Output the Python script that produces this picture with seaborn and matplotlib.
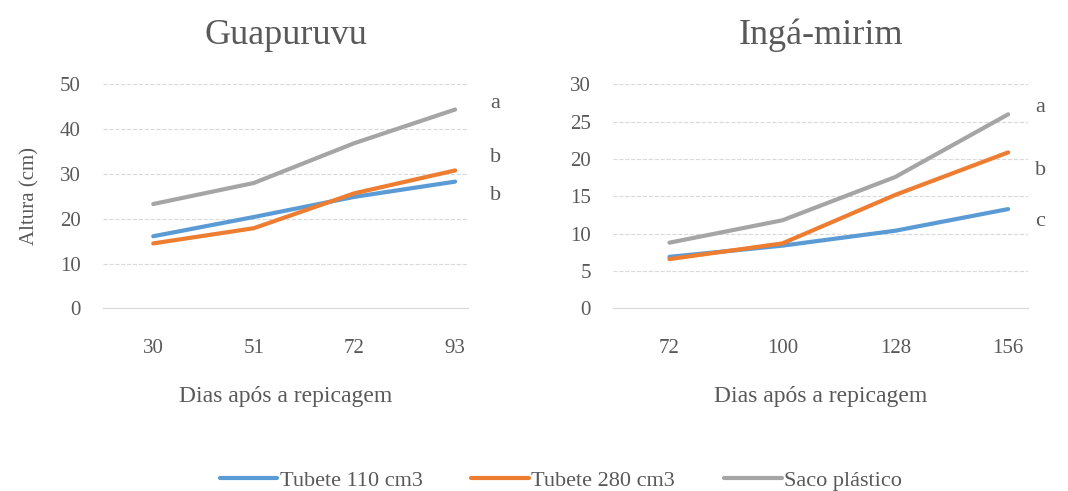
import pandas as pd
import matplotlib.pyplot as plt
import seaborn as sns

# data
series_names = ['Tubete 110 cm3', 'Tubete 280 cm3', 'Saco plástico']
colors = ['#5B9BD5', '#ED7D31', '#A5A5A5']

guap_days = ['30', '51', '72', '93']
guap_tub110 = [16.1, 20.4, 24.9, 28.3]
guap_tub280 = [14.5, 17.9, 25.7, 30.8]
guap_saco = [23.3, 28.0, 36.9, 44.4]
guap_letters = ['a', 'b', 'b']
guap_letter_y = [45.7, 33.7, 25.2]

inga_days = ['72', '100', '128', '156']
inga_tub110 = [6.9, 8.4, 10.4, 13.3]
inga_tub280 = [6.6, 8.7, 15.2, 20.9]
inga_saco = [8.8, 11.8, 17.6, 26.0]
inga_letters = ['a', 'b', 'c']
inga_letter_y = [26.9, 18.5, 11.6]


def make_df(days, a, b, c):
    rows = []
    for name, vals in zip(series_names, [a, b, c]):
        for d, v in zip(days, vals):
            rows.append({'dia': d, 'altura': v, 'trat': name})
    return pd.DataFrame(rows)


df_guap = make_df(guap_days, guap_tub110, guap_tub280, guap_saco)
df_inga = make_df(inga_days, inga_tub110, inga_tub280, inga_saco)

sns.set_style('white')
plt.rcParams['font.family'] = ['Liberation Serif', 'DejaVu Serif']
txt = '#595959'

fig = plt.figure(figsize=(10.68, 4.91), dpi=100)
ax1 = fig.add_axes([0.0964, 0.372, 0.342, 0.456])
ax2 = fig.add_axes([0.574, 0.372, 0.389, 0.456])


def draw(ax, df, title, ymax, step, right, letters, letter_y, off):
    sns.lineplot(data=df, x='dia', y='altura', hue='trat', palette=colors,
                 linewidth=3, ax=ax, legend=False, sort=False)
    ax.set_ylim(0, ymax)
    ax.set_xlim(-0.5, right)
    ax.set_yticks(range(0, ymax + 1, step))
    ax.yaxis.grid(True, color='#D9D9D9', linestyle='--', linewidth=0.8)
    ax.set_axisbelow(True)
    for s in ['top', 'right', 'left']:
        ax.spines[s].set_visible(False)
    ax.spines['bottom'].set_color('#D9D9D9')
    ax.tick_params(axis='both', length=0, labelsize=15, colors=txt)
    ax.tick_params(axis='x', pad=22)
    ax.tick_params(axis='y', pad=16)
    ax.set_xlabel('Dias após a repicagem', fontsize=17, color=txt, labelpad=20)
    ax.set_ylabel('')
    ax.set_title(title, fontsize=26, color=txt, pad=29)
    for lt, v in zip(letters, letter_y):
        ax.annotate(lt, xy=(3, v), xytext=(off, 0), textcoords='offset points',
                    fontsize=16, color=txt, ha='center', va='center',
                    annotation_clip=False)


draw(ax1, df_guap, 'Guapuruvu', 50, 10, 3.13, guap_letters, guap_letter_y, 29)
draw(ax2, df_inga, 'Ingá-mirim', 30, 5, 3.18, inga_letters, inga_letter_y, 23)
ax1.set_ylabel('Altura (cm)', fontsize=15, color=txt)
ax1.yaxis.set_label_coords(-0.175, 0.5)

handles = [plt.Line2D([], [], color=c, linewidth=3) for c in colors]
fig.legend(handles, series_names, loc='lower center', ncol=3, frameon=False,
           bbox_to_anchor=(0.525, -0.04), fontsize=16, handlelength=2.6,
           handletextpad=0.1, columnspacing=2.2, labelcolor=txt)

fig.savefig('out.png', dpi=100)
